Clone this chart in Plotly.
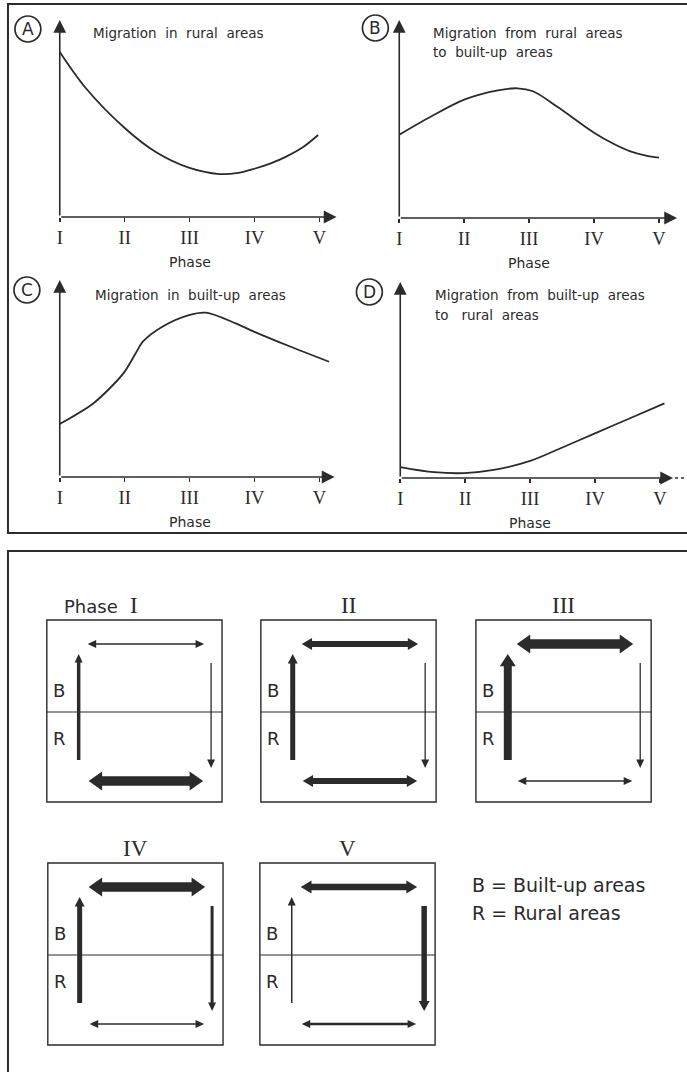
import plotly.graph_objects as go

# ---------------- data ----------------
phase_ticks = [1, 2, 3, 4, 5]
phase_labels = ["I", "II", "III", "IV", "V"]

# A: Migration in rural areas
a_phase = [1.0, 1.4, 2.0, 2.48, 3.0, 3.46, 3.75, 4.0, 4.25, 4.48, 4.75, 4.98]
a_level = [8.38, 6.55, 4.52, 3.30, 2.49, 2.18, 2.24, 2.45, 2.72, 3.05, 3.55, 4.16]
# B: Migration from rural areas to built-up areas
b_phase = [1.0, 1.49, 2.01, 2.52, 2.82, 3.06, 3.43, 4.0, 4.3, 4.55, 4.8, 5.0]
b_level = [4.21, 5.13, 5.99, 6.45, 6.55, 6.40, 5.63, 4.31, 3.75, 3.38, 3.15, 3.05]
# C: Migration in built-up areas
c_phase = [1.0, 1.51, 1.82, 2.0, 2.17, 2.28, 2.58, 2.99, 3.25, 3.71, 4.0, 4.53, 5.15]
c_level = [2.69, 3.72, 4.67, 5.35, 6.28, 6.87, 7.63, 8.22, 8.34, 7.80, 7.37, 6.65, 5.85]
# D: Migration from built-up areas to rural areas
d_phase = [1.0, 1.52, 1.99, 2.44, 2.99, 3.47, 4.0, 4.54, 5.07]
d_level = [0.56, 0.30, 0.25, 0.41, 0.86, 1.52, 2.28, 3.05, 3.81]

# Diagram: arrow thickness (relative strength of each migration flow) per phase
flow_top = [1.3, 6.0, 9.5, 9.5, 6.5]      # within built-up areas
flow_left = [3.5, 5.0, 8.0, 5.0, 1.5]     # rural -> built-up
flow_right = [1.3, 1.3, 1.3, 3.0, 5.5]    # built-up -> rural
flow_bottom = [9.5, 6.0, 1.5, 1.5, 2.5]   # within rural areas

legend_lines = ["B = Built-up areas", "R = Rural areas"]

# ---------------- layout helpers ----------------
W, H = 687, 1072
INK = "#2b2b2b"
SANS = "DejaVu Sans"
SERIF = "Liberation Serif"


def px(x):
    return x / W


def py(y):
    return 1 - y / H


fig = go.Figure()
shapes = []
annotations = []

NB = "\u00a0\u00a0"
panels = [
    dict(key="A", ph=a_phase, lv=a_level, x0=57, y0=217, x1=335, y1=20, cx=25, cy=29,
         title=[f"Migration{NB}in{NB}rural{NB}areas"], tx=88, ty=33),
    dict(key="B", ph=b_phase, lv=b_level, x0=398, y0=218, x1=677, y1=20, cx=374, cy=28,
         title=[f"Migration{NB}from{NB}rural{NB}areas", f"to{NB}built-up{NB}areas"],
         tx=430, ty=33),
    dict(key="C", ph=c_phase, lv=c_level, x0=57, y0=477, x1=333, y1=280, cx=24, cy=290,
         title=[f"Migration{NB}in{NB}built-up{NB}areas"], tx=90, ty=295),
    dict(key="D", ph=d_phase, lv=d_level, x0=399, y0=478, x1=673, y1=282, cx=368, cy=292,
         title=[f"Migration{NB}from{NB}built-up{NB}areas", f"to{NB}\u00a0rural{NB}areas"],
         tx=432, ty=295),
]
UNIT = 65.2  # pixels per phase

layout_axes = {}
for i, p in enumerate(panels, start=1):
    xa = "x" if i == 1 else f"x{i}"
    ya = "y" if i == 1 else f"y{i}"
    xmax = 1 + (p["x1"] - p["x0"]) / UNIT
    fig.add_trace(go.Scatter(
        x=p["ph"], y=p["lv"], mode="lines", xaxis=xa, yaxis=ya,
        line=dict(shape="spline", smoothing=0.9, color=INK, width=1.8),
        hoverinfo="skip", showlegend=False))
    layout_axes["xaxis" if i == 1 else f"xaxis{i}"] = dict(
        domain=[px(p["x0"]), px(p["x1"])], range=[1, xmax], anchor=ya,
        showgrid=False, zeroline=False, showline=False,
        tickmode="array", tickvals=phase_ticks, ticktext=phase_labels,
        ticks="outside", ticklen=4, tickwidth=1.6, tickcolor=INK,
        tickfont=dict(family=SERIF, size=18.5, color=INK), fixedrange=True)
    layout_axes["yaxis" if i == 1 else f"yaxis{i}"] = dict(
        domain=[py(p["y0"]), py(p["y1"])], range=[0, 10], anchor=xa,
        visible=False, fixedrange=True)
    # axis lines with arrow heads
    for (hx, hy) in [(xmax, 0), (1, 10)]:
        annotations.append(dict(
            xref=xa, yref=ya, axref=xa, ayref=ya, x=hx, y=hy, ax=1, ay=0,
            text="", showarrow=True, arrowhead=2, arrowsize=1.6,
            arrowwidth=1.6, arrowcolor=INK))
    # "Phase" axis caption
    annotations.append(dict(
        xref=xa, yref="paper", x=3, y=py(p["y0"] + 45), text="Phase",
        showarrow=False, xanchor="center", yanchor="middle",
        font=dict(family=SANS, size=14, color=INK)))
    # titles
    for k, line in enumerate(p["title"]):
        annotations.append(dict(
            xref="paper", yref="paper", x=px(p["tx"]), y=py(p["ty"] + 19.5 * k),
            text=line, showarrow=False, xanchor="left", yanchor="middle",
            font=dict(family=SANS, size=13.5, color=INK)))
    # circled letter
    r = 13
    shapes.append(dict(type="circle", xref="paper", yref="paper",
                       x0=px(p["cx"] - r), x1=px(p["cx"] + r),
                       y0=py(p["cy"] + r), y1=py(p["cy"] - r),
                       line=dict(color=INK, width=1.7)))
    annotations.append(dict(
        xref="paper", yref="paper", x=px(p["cx"]), y=py(p["cy"]), text=p["key"],
        showarrow=False, xanchor="center", yanchor="middle",
        font=dict(family=SANS, size=17, color=INK)))

# dotted continuation after D's x-axis
shapes.append(dict(type="line", xref="paper", yref="paper",
                   x0=px(675), x1=px(685), y0=py(478), y1=py(478),
                   line=dict(color=INK, width=1.5, dash="dot")))

# panel frames
shapes.append(dict(type="rect", xref="paper", yref="paper",
                   x0=px(5), x1=px(720), y0=py(533), y1=py(4),
                   line=dict(color=INK, width=2)))
shapes.append(dict(type="rect", xref="paper", yref="paper",
                   x0=px(5), x1=px(720), y0=py(1100), y1=py(551),
                   line=dict(color=INK, width=2)))


# ---------------- arrow diagram ----------------
def head(w):
    hw = max(8.0, 2.0 * w)
    hl = 5 + 0.45 * hw
    return hw, hl


def poly(points):
    s = "M " + " L ".join(f"{px(x):.5f},{py(y):.5f}" for x, y in points) + " Z"
    return dict(type="path", xref="paper", yref="paper", path=s,
                fillcolor=INK, line=dict(width=0))


def h_double(xa, xb, y, w):
    hw, hl = head(w)
    return poly([(xa, y), (xa + hl, y - hw / 2), (xa + hl, y - w / 2),
                 (xb - hl, y - w / 2), (xb - hl, y - hw / 2), (xb, y),
                 (xb - hl, y + hw / 2), (xb - hl, y + w / 2),
                 (xa + hl, y + w / 2), (xa + hl, y + hw / 2)])


def v_single(x, ytail, ytip, w):
    hw, hl = head(w)
    s = 1 if ytip > ytail else -1
    yb = ytip - s * hl
    return poly([(x - w / 2, ytail), (x - w / 2, yb), (x - hw / 2, yb), (x, ytip),
                 (x + hw / 2, yb), (x + w / 2, yb), (x + w / 2, ytail)])


box_left = [44, 259, 475, 45, 258]
box_top = [620, 620, 620, 863, 863]
BW, BH = 176, 182

for i in range(5):
    L, T = box_left[i], box_top[i]
    shapes.append(dict(type="rect", xref="paper", yref="paper",
                       x0=px(L), x1=px(L + BW), y0=py(T + BH), y1=py(T),
                       line=dict(color=INK, width=1.4)))
    shapes.append(dict(type="line", xref="paper", yref="paper",
                       x0=px(L), x1=px(L + BW), y0=py(T + 92), y1=py(T + 92),
                       line=dict(color=INK, width=1.1)))
    shapes.append(h_double(L + 41, L + 158, T + 24, flow_top[i]))
    shapes.append(v_single(L + 32, T + 140, T + 34, flow_left[i]))
    shapes.append(v_single(L + 165, T + 43, T + 148, flow_right[i]))
    shapes.append(h_double(L + 42, L + 157, T + 161, flow_bottom[i]))
    for lab, dy in [("B", 70), ("R", 118)]:
        annotations.append(dict(
            xref="paper", yref="paper", x=px(L + 4), y=py(T + dy), text=lab,
            showarrow=False, xanchor="left", yanchor="middle",
            font=dict(family=SANS, size=18, color=INK)))
    cxb = L + BW / 2
    annotations.append(dict(
        xref="paper", yref="paper", x=px(cxb), y=py(T - 15), text=phase_labels[i],
        showarrow=False, xanchor="center", yanchor="middle",
        font=dict(family=SERIF, size=23, color=INK)))
    if i == 0:
        annotations.append(dict(
            xref="paper", yref="paper", x=px(cxb - 14), y=py(T - 14), text="Phase",
            showarrow=False, xanchor="right", yanchor="middle",
            font=dict(family=SANS, size=18, color=INK)))

for k, line in enumerate(legend_lines):
    annotations.append(dict(
        xref="paper", yref="paper", x=px(469), y=py(885 + 28 * k), text=line,
        showarrow=False, xanchor="left", yanchor="middle",
        font=dict(family=SANS, size=19, color=INK)))

fig.update_layout(
    width=W, height=H, margin=dict(l=0, r=0, t=0, b=0),
    paper_bgcolor="white", plot_bgcolor="white",
    shapes=shapes, annotations=annotations, showlegend=False,
    **layout_axes)

fig.write_html("out.html", config={"displayModeBar": False, "staticPlot": True},
               post_script="document.body.style.margin='0';document.body.style.overflow='hidden';")
